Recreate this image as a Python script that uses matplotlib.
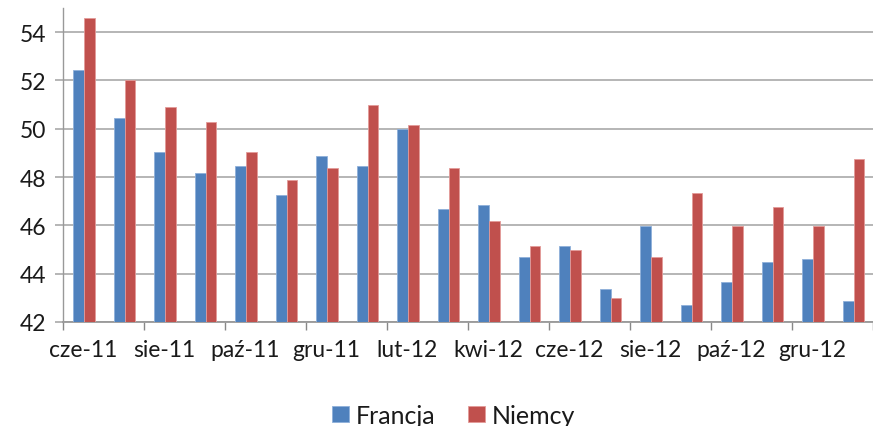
import matplotlib
matplotlib.use("Agg")
import matplotlib.pyplot as plt
import numpy as np

months = ["cze-11", "lip-11", "sie-11", "wrz-11", "paź-11", "lis-11", "gru-11", "sty-12",
          "lut-12", "mar-12", "kwi-12", "maj-12", "cze-12", "lip-12", "sie-12", "wrz-12",
          "paź-12", "lis-12", "gru-12", "sty-13"]
francja = [52.45, 50.46, 49.05, 48.18, 48.47, 47.25, 48.86, 48.47, 49.99, 46.66,
           46.85, 44.68, 45.15, 43.37, 45.97, 42.69, 43.66, 44.49, 44.59, 42.88]
niemcy = [54.58, 52.0, 50.89, 50.27, 49.05, 47.88, 48.36, 50.99, 50.16, 48.36,
          46.19, 45.15, 44.97, 42.98, 44.68, 47.36, 45.97, 46.77, 45.97, 48.75]
series_names = ["Francja", "Niemcy"]
yticks = [42, 44, 46, 48, 50, 52, 54]

plt.rcParams['font.family'] = ['Lato', 'DejaVu Sans']

W, H = 873, 427
fig = plt.figure(figsize=(W / 100, H / 100), dpi=100)
ax = fig.add_axes([63 / W, (H - 323) / H, (873 - 63) / W, (323 - 9) / H])

x = np.arange(len(months))
w = 0.27
ax.bar(x - w / 2 + 0.02, francja, width=w, color="#4F81BD", edgecolor="#8FB0DA",
       linewidth=0.6, label=series_names[0], zorder=3)
ax.bar(x + w / 2 + 0.02, niemcy, width=w, color="#C0504D", edgecolor="#E39A98",
       linewidth=0.6, label=series_names[1], zorder=3)

ax.set_ylim(42, 55)
ax.set_xlim(-0.5, len(months) - 0.5)
ax.set_yticks(yticks)
ax.set_yticklabels([str(v) for v in yticks], fontsize=16.5, color="#1A1A1A")
ax.yaxis.grid(True, color="#B0B0B0", linewidth=1.3, zorder=0)
ax.set_axisbelow(True)

ax.set_xticks(np.arange(-0.5, len(months), 2))
ax.set_xticklabels([])
ax.set_xticks(x[::2], minor=True)
ax.set_xticklabels(months[::2], minor=True, fontsize=16.5, color="#1A1A1A")
ax.tick_params(axis="x", which="major", length=6, color="#888888", width=1)
ax.tick_params(axis="x", which="minor", length=0, pad=12)
ax.tick_params(axis="y", length=6, color="#B0B0B0", width=1.3, pad=6)

for s in ["top", "right"]:
    ax.spines[s].set_visible(False)
ax.spines["left"].set_color("#999999")
ax.spines["bottom"].set_color("#999999")
ax.spines["left"].set_linewidth(1)
ax.spines["bottom"].set_linewidth(1.3)

fig.legend(loc="center", bbox_to_anchor=(0.52, 0.025), ncol=2, frameon=False,
           fontsize=18, handlelength=0.65, handleheight=0.65, handletextpad=0.3,
           columnspacing=1.3, labelcolor="#1A1A1A")

fig.savefig("out.png", dpi=100)
